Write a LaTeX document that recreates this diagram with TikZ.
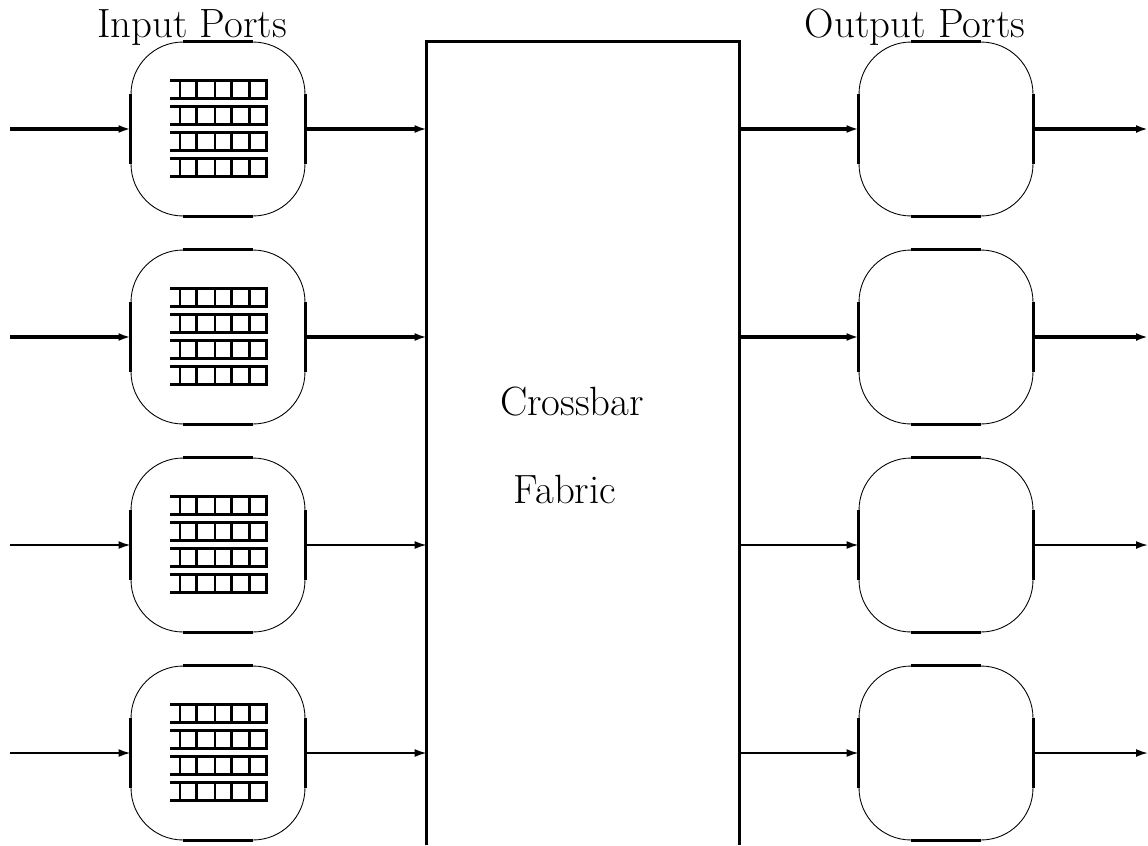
\documentclass[tikz,border=0pt]{standalone}
\usetikzlibrary{positioning,arrows.meta}
\tikzstyle{diagram} = [x = 0.02cm, y = -0.02cm]
\tikzstyle{portShape} = [draw, line width=0.5pt, rounded corners=1.04cm, minimum width=3.48cm, minimum height=3.48cm, inner sep=0pt]
\tikzstyle{portEdge} = [line width=1.7pt]
\tikzstyle{queueLine} = [line width=1.6pt, line cap=rect]
\tikzstyle{flowArrow} = [-{Latex[length=2.4mm,width=1.6mm]}, line width=1.8pt]
\tikzstyle{flowArrowThin} = [flowArrow, line width=1.1pt]
\tikzstyle{fabricEdge} = [line width=1.4pt]
\tikzstyle{bigLabel} = [font=\Huge, anchor=base, inner sep=0pt]
\newcommand{\bigText}[1]{\scalebox{0.935}{#1}}
\newcommand{\portRad}{1.04cm}
\newcommand{\portBox}[3]{
  \node [portShape] (#1) at (#2, #3) {};
  \draw [portEdge] ([xshift=\portRad]#1.north west) -- ([xshift=-\portRad]#1.north east);
  \draw [portEdge] ([xshift=\portRad]#1.south west) -- ([xshift=-\portRad]#1.south east);
  \draw [portEdge] ([yshift=-\portRad]#1.north west) -- ([yshift=\portRad]#1.south west);
  \draw [portEdge] ([yshift=-\portRad]#1.north east) -- ([yshift=\portRad]#1.south east);
}
\newcommand{\queueRow}[1]{
  \draw [queueLine] (-47, #1 - 8.8) -- (48.7, #1 - 8.8) (-47, #1 + 8.8) -- (48.7, #1 + 8.8);
  \foreach \cell in {-38, -21.3, -3, 13.7, 31.3, 48.7} {
    \draw [queueLine] (\cell, #1 - 8.8) -- (\cell, #1 + 8.8);
  }
}
\newcommand{\queueStack}[1]{
  \begin{scope}[shift={(#1)}]
    \foreach \row in {-39.5, -13.5, 12.5, 38.5} {
      \queueRow{\row}
    }
  \end{scope}
}
\begin{document}
\begin{tikzpicture}[diagram]
  \useasboundingbox (0,0) rectangle (1148,845);
  % ports
  \foreach \i/\rowY in {1/129, 2/337, 3/545, 4/753} {
    \portBox{in\i}{218}{\rowY}
    \portBox{out\i}{946}{\rowY}
    \queueStack{in\i}
    \coordinate (src\i) at (10, \rowY);
    \coordinate (dst\i) at (1148, \rowY);
  }
  % crossbar
  \node [minimum width=6.24cm, minimum height=16.06cm, inner sep=0pt] (xbar) at (583, 443.5) {};
  \draw [fabricEdge] (xbar.south west) -- (xbar.north west) -- (xbar.north east) -- (xbar.south east);
  \node [bigLabel] (fabricTop) at (572, 415) {\bigText{Crossbar}};
  \node [bigLabel] (fabricBottom) at (565, 503) {\bigText{Fabric}};
  \node [bigLabel] (inLabel) at (192, 37) {\bigText{Input Ports}};
  \node [bigLabel] (outLabel) at (915, 37) {\bigText{Output Ports}};
  % connections
  \foreach \i in {1, 2} {
    \draw [flowArrow] (src\i) -- (in\i.west);
    \draw [flowArrow] (in\i.east) -- (xbar.west |- in\i);
    \draw [flowArrow] (xbar.east |- out\i) -- (out\i.west);
    \draw [flowArrow] (out\i.east) -- (dst\i);
  }
  \foreach \i in {3, 4} {
    \draw [flowArrowThin] (src\i) -- (in\i.west);
    \draw [flowArrowThin] (in\i.east) -- (xbar.west |- in\i);
    \draw [flowArrowThin] (xbar.east |- out\i) -- (out\i.west);
    \draw [flowArrowThin] (out\i.east) -- (dst\i);
  }
\end{tikzpicture}
\end{document}
